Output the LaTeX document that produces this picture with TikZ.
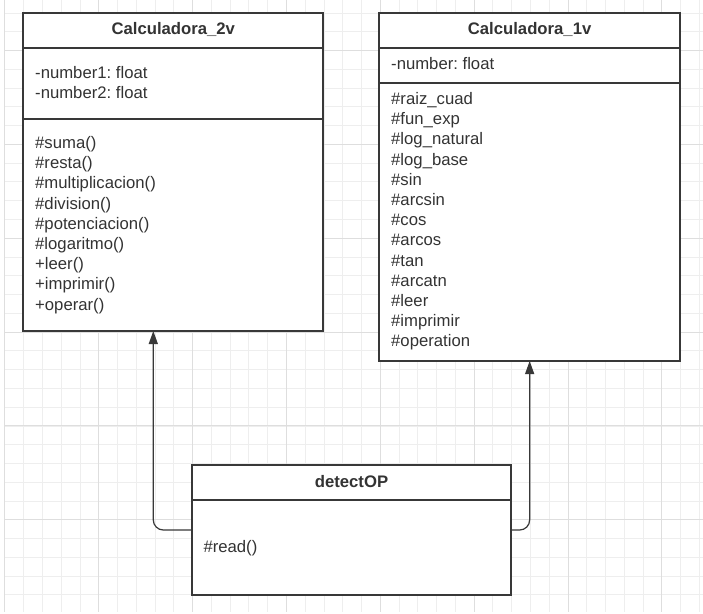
\documentclass[tikz,border=0pt]{standalone}
\usepackage{fontspec}
\setmainfont{Liberation Sans}
\usepackage{xcolor}
\usepackage{tikz}
\usetikzlibrary{arrows.meta,positioning,calc}
\definecolor{Ink}{HTML}{333333}
\definecolor{Frame}{HTML}{383838}
\definecolor{GridMinor}{HTML}{EEEEEE}
\definecolor{GridMajor}{HTML}{DEDEDE}
\newcommand{\lineh}{20.2}
\frenchspacing

\begin{document}
\begin{tikzpicture}[x=1pt,y=-1pt,
  minorgrid/.style={draw=GridMinor,line width=0.8pt},
  majorgrid/.style={draw=GridMajor,line width=0.9pt},
  classbox/.style={draw=Frame,line width=1.8pt,fill=white,anchor=north west,inner sep=0pt,outer sep=0pt},
  divider/.style={draw=Frame,line width=1.8pt},
  title/.style={font=\fontsize{16.7}{20}\selectfont\bfseries,text=Ink,anchor=base,inner sep=0pt},
  member/.style={font=\fontsize{16.7}{20}\selectfont,text=Ink,anchor=base west,inner sep=0pt},
  assoc/.style={draw=Frame,line width=1.2pt,rounded corners=10pt,-{Triangle[length=13pt,width=9pt]}}
]
\useasboundingbox[fill=white] (0,0) rectangle (703,613);
% grid paper
\foreach \k in {0,...,37}
  \draw[minorgrid] ({4.85+18.77*\k},0) -- ({4.85+18.77*\k},612);
\foreach \k in {0,...,31}
  \draw[minorgrid] (4.85,{12.96+18.77*\k}) -- (703,{12.96+18.77*\k});
\foreach \k in {0,...,7}
  \draw[majorgrid] ({4.85+93.85*\k},0) -- ({4.85+93.85*\k},612);
\foreach \k in {0,...,5}
  \draw[majorgrid] (4.85,{50.5+93.85*\k}) -- (703,{50.5+93.85*\k});

% class boxes
\node[classbox,minimum width=300pt,minimum height=318pt] (calcTwo) at (23.3,13) {};
\node[classbox,minimum width=300.7pt,minimum height=348pt] (calcOne) at (379.3,13) {};
\node[classbox,minimum width=319pt,minimum height=130pt] (detect) at (192,465) {};
\draw[divider] ([yshift=-34.7pt]calcTwo.north west) -- ([yshift=-34.7pt]calcTwo.north east);
\draw[divider] ([yshift=-106pt]calcTwo.north west) -- ([yshift=-106pt]calcTwo.north east);
\draw[divider] ([yshift=-34.7pt]calcOne.north west) -- ([yshift=-34.7pt]calcOne.north east);
\draw[divider] ([yshift=-70pt]calcOne.north west) -- ([yshift=-70pt]calcOne.north east);
\draw[divider] ([yshift=-35pt]detect.north west) -- ([yshift=-35pt]detect.north east);

% names
\node[title] (calcTwoName) at (173.3,34.5) {Calculadora\_2v};
\node[title] (calcOneName) at (529.6,34.5) {Calculadora\_1v};
\node[title] (detectName) at (351.5,487) {detectOP};

% members
\foreach \txt [count=\i from 0] in {-number1: float,-number2: float}
  \node[member] (attrTwo-\i) at (35,{78+\lineh*\i}) {\txt};
\foreach \txt [count=\i from 0] in {\#suma(),\#resta(),\#multiplicacion(),\#division(),\#potenciacion(),\#logaritmo(),+leer(),+imprimir(),+operar()}
  \node[member] (methTwo-\i) at (35,{148.5+\lineh*\i}) {\txt};
\node[member] (attrOne-0) at (391,69) {-number: float};
\foreach \txt [count=\i from 0] in {\#raiz\_cuad,\#fun\_exp,\#log\_natural,\#log\_base,\#sin,\#arcsin,\#cos,\#arcos,\#tan,\#arcatn,\#leer,\#imprimir,\#operation}
  \node[member] (methOne-\i) at (391,{104.5+\lineh*\i}) {\txt};
\node[member] (methDetect-0) at (203.3,552) {\#read()};

% associations
\draw[assoc] (detect.west) -| ([xshift=-20pt]calcTwo.south);
\draw[assoc] (detect.east) -| (calcOne.south);
\end{tikzpicture}
\end{document}
